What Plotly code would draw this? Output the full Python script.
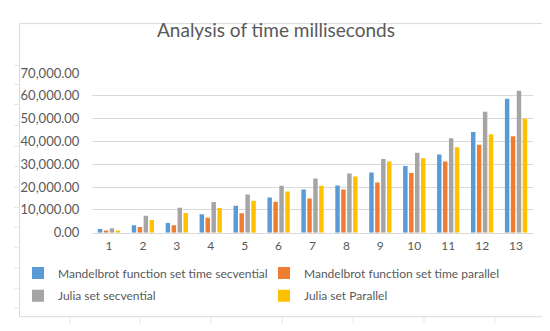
import plotly.graph_objects as go

W, H = 550, 331

categories = [str(i) for i in range(1, 14)]
mandel_seq = [1600, 3300, 4200, 8100, 11800, 15400, 19000, 20700, 26400, 29200, 34300, 44200, 58700]
mandel_par = [1000, 2500, 3300, 6500, 8500, 13600, 15000, 19000, 22000, 26200, 31200, 38600, 42300]
julia_seq = [2000, 7400, 10900, 13500, 16700, 20600, 23800, 26000, 32300, 35100, 41400, 53000, 62300]
julia_par = [1000, 5600, 8600, 10800, 14000, 18100, 20600, 24700, 31200, 32600, 37500, 43200, 50000]

names = ["Mandelbrot function set time secvential",
         "Mandelbrot function set time parallel",
         "Julia set secvential",
         "Julia set Parallel"]
colors = ["#5B9BD5", "#ED7D31", "#A5A5A5", "#FFC000"]
series = [mandel_seq, mandel_par, julia_seq, julia_par]
legends = ["legend", "legend2", "legend3", "legend4"]

FONT = "Lato, 'Open Sans', sans-serif"
TXT = "#595959"
GRID = "#D9D9D9"

fig = go.Figure()
for nm, col, vals, lg in zip(names, colors, series, legends):
    fig.add_trace(go.Bar(x=categories, y=vals, name=nm, marker=dict(color=col, line=dict(width=0)),
                         legend=lg))

def px(x):
    return x / W

def py(y):
    return (H - y) / H

leg_common = dict(orientation="h", xanchor="left", yanchor="middle",
                  font=dict(size=12, color=TXT),
                  bgcolor="rgba(0,0,0,0)", traceorder="normal", borderwidth=0)

col1_x, col2_x = px(10), px(256)
row1_y, row2_y = py(270), py(294)

fig.update_layout(
    width=W, height=H,
    margin=dict(l=0, r=0, t=0, b=0),
    paper_bgcolor="white", plot_bgcolor="white",
    font=dict(family=FONT, size=12, color=TXT),
    barmode="group", bargap=0.3, bargroupgap=0.25,
    title=dict(text="Analysis of time milliseconds", x=px(268), xanchor="center",
               y=py(22), yanchor="middle", font=dict(size=19, color=TXT, family=FONT)),
    xaxis=dict(domain=[px(84), px(525)], showgrid=False, showline=True, linecolor=GRID,
               linewidth=1, ticks="", tickfont=dict(size=12, color=TXT), ticklabelstandoff=2,
               fixedrange=True),
    yaxis=dict(domain=[py(227.7), py(60)], range=[0, 70000], dtick=10000,
               tickformat=",.2f", showgrid=True, gridcolor=GRID, gridwidth=1,
               zeroline=False, showline=False, ticks="outside", ticklen=9,
               tickcolor="rgba(0,0,0,0)",
               tickfont=dict(size=13, color=TXT), fixedrange=True),
    legend=dict(x=col1_x, y=row1_y, **leg_common),
    legend2=dict(x=col2_x, y=row1_y, **leg_common),
    legend3=dict(x=col1_x, y=row2_y, **leg_common),
    legend4=dict(x=col2_x, y=row2_y, **leg_common),
    showlegend=True,
)

shapes = []
# chart frame
shapes.append(dict(type="rect", xref="paper", yref="paper", x0=px(11.5), x1=px(541.5),
                   y0=py(316), y1=py(8), line=dict(color=GRID, width=1), layer="below"))
# faint spreadsheet cell lines peeking out around the chart
row_lines = [52, 72, 93, 115, 137, 158, 180, 201, 222, 243, 265, 286, 307]
for yy in row_lines:
    shapes.append(dict(type="line", xref="paper", yref="paper", x0=px(6), x1=px(11.5),
                       y0=py(yy), y1=py(yy), line=dict(color="#E6E6E6", width=1)))
    shapes.append(dict(type="line", xref="paper", yref="paper", x0=px(541.5), x1=px(547),
                       y0=py(yy), y1=py(yy), line=dict(color="#E6E6E6", width=1)))
col_lines = [62, 132, 203, 274, 345, 416, 487]
for xx in col_lines:
    shapes.append(dict(type="line", xref="paper", yref="paper", x0=px(xx), x1=px(xx),
                       y0=py(316), y1=py(323), line=dict(color="#E6E6E6", width=1)))
fig.update_layout(shapes=shapes)

fig.write_html("out.html")
